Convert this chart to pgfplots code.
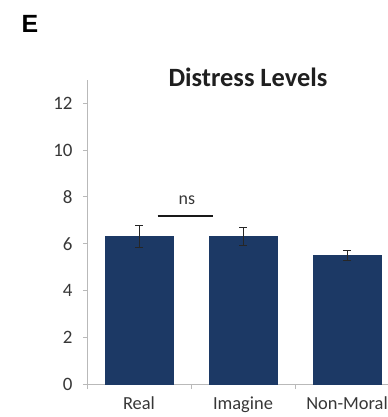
\documentclass[border=0pt]{standalone}
\usepackage{pgfplots}
\pgfplotsset{compat=1.18}
\usepackage{fontspec}
\setmainfont{Carlito}
\newfontfamily\arialfont{Liberation Sans}
\definecolor{barblue}{RGB}{28,57,101}
\definecolor{txtgray}{RGB}{55,55,55}
\definecolor{axgray}{RGB}{185,185,185}
\begin{document}
\begin{tikzpicture}[x=1bp,y=1bp]
\useasboundingbox (-87,-33) rectangle (301,384);
\begin{axis}[
  at={(0,0)}, anchor=south west,
  scale only axis,
  width=301bp, height=304bp,
  xmin=-0.5, xmax=2.394,
  ymin=0, ymax=13,
  axis x line*=bottom, axis y line*=left,
  axis line style={axgray, line width=0.9pt},
  xtick={0,1,2},
  xticklabels={Real,Imagine,Non-Moral},
  minor xtick={-0.5,0.5,1.5},
  major x tick style={draw=none},
  minor x tick style={axgray, line width=0.9pt},
  minor tick length=5bp,
  ytick={0,2,...,12},
  y tick style={axgray, line width=0.9pt},
  major tick length=4bp,
  tick align=outside,
  ticklabel style={text=txtgray},
  yticklabel style={font=\fontsize{19}{19}\selectfont, xshift=-7bp},
  xticklabel style={font=\fontsize{18.5}{18.5}\selectfont, yshift=-5bp},
  /pgf/number format/assume math mode=true,
  ybar, bar width=68bp,
  clip=false,
]
\addplot[fill=barblue, draw=barblue,
  error bars/.cd, y dir=both, y explicit,
  error bar style={black!85, line width=0.8pt},
  error mark options={rotate=90, mark size=4bp, black!85, line width=0.8pt}]
  coordinates {(0,6.32) +- (0,0.47) (1,6.30) +- (0,0.38) (2,5.50) +- (0,0.22)};
\draw[black!90, line width=1.3pt] (axis cs:0.18,7.18) -- (axis cs:0.71,7.18);
\node[text=txtgray, font=\fontsize{18}{18}\selectfont] at (axis cs:0.46,7.85) {ns};
\end{axis}
\node[font=\fontsize{26.5}{26.5}\selectfont\bfseries, text=black!88] at (161,307) {Distress Levels};
\node[font=\arialfont\fontsize{25}{25}\selectfont\bfseries, text=black] at (-57,360) {E};
\end{tikzpicture}
\end{document}
